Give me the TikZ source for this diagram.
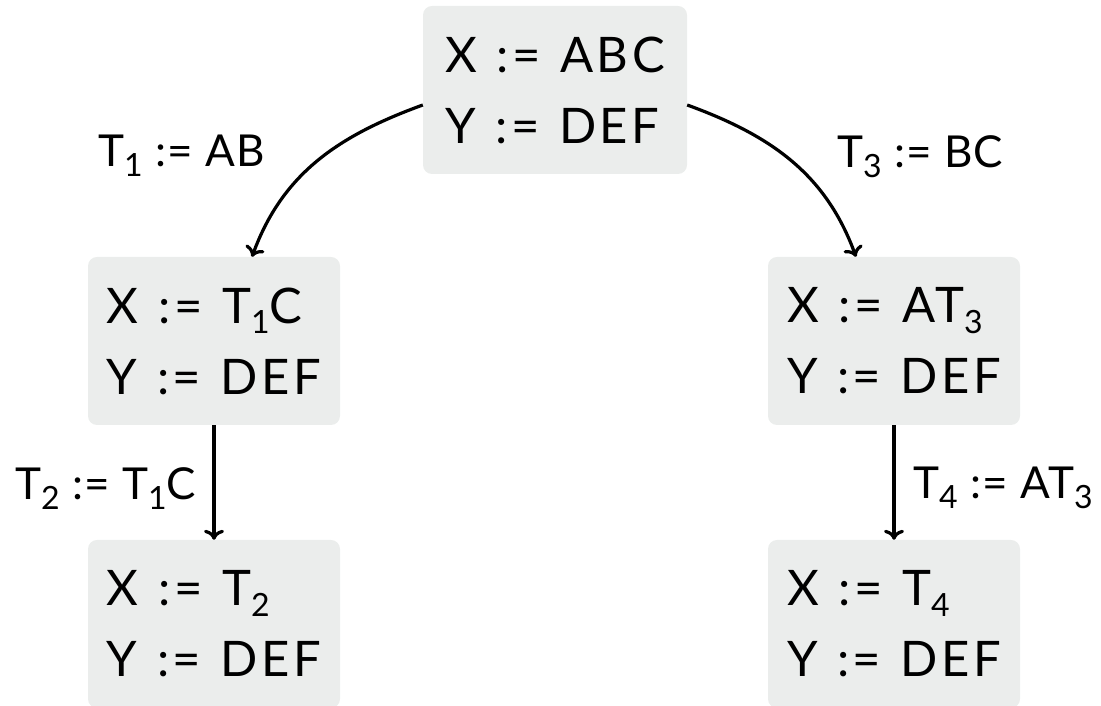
\documentclass[tikz,border=0pt]{standalone}
\usepackage{fontspec}
\setmainfont{Lato}[LetterSpace=3]
\newfontfamily\boxfont{Lato}[LetterSpace=7]
\usetikzlibrary{arrows.meta}
\definecolor{boxgray}{RGB}{235,237,236}
\newcommand\sbs[1]{\raisebox{-0.22em}{\fontsize{32}{32}\selectfont #1}}
\newcommand\defeq{\hspace{0.4em}:=\hspace{0.4em}}
\newcommand\ldefeq{\hspace{0.28em}:=\hspace{0.28em}}
\begin{document}
\begin{tikzpicture}[x=1pt,y=1pt,
  box/.style={fill=boxgray, rounded corners=9pt, minimum height=168pt, minimum width=252pt,
    align=left, inner xsep=18pt, inner ysep=0pt, font=\boxfont\fontsize{49}{71}\selectfont},
  lbl/.style={anchor=base west, inner sep=0pt, font=\fontsize{44}{54}\selectfont},
  conn/.style={line width=3.2pt, -{Computer Modern Rightarrow[length=10pt,width=20pt,line width=3.2pt]}}]
\useasboundingbox (0,0) rectangle (1101,706);
\node[box, minimum width=264pt] (top) at (555,616) {X\defeq ABC\\Y\defeq DEF};
\node[box] (midL) at (214,365) {X\defeq T\sbs{1}C\\Y\defeq DEF};
\node[box] (midR) at (894,365) {X\defeq AT\sbs{3}\\Y\defeq DEF};
\node[box] (botL) at (214,82) {X\defeq T\sbs{2}\\Y\defeq DEF};
\node[box] (botR) at (894,82) {X\defeq T\sbs{4}\\Y\defeq DEF};
\draw[conn] ([yshift=-15pt]top.west) to[out=200,in=70] ([xshift=38pt]midL.north);
\draw[conn] ([yshift=-15pt]top.east) to[out=-20,in=110] ([xshift=-38pt]midR.north);
\draw[conn] (midL.south) -- (botL.north);
\draw[conn] (midR.south) -- (botR.north);
\node[lbl] (l1) at (98,539) {T\sbs{1}\ldefeq AB};
\node[lbl] (l3) at (837,538) {T\sbs{3}\ldefeq BC};
\node[lbl] (l2) at (15,206) {T\sbs{2}\ldefeq T\sbs{1}C};
\node[lbl] (l4) at (913,207) {T\sbs{4}\ldefeq AT\sbs{3}};
\end{tikzpicture}
\end{document}
